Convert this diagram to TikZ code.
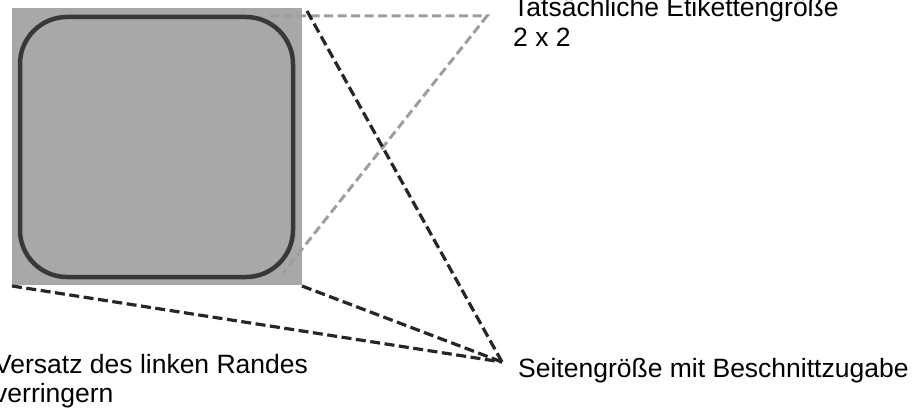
\documentclass[tikz,border=0pt]{standalone}
\usepackage{fontspec}
\setmainfont{Liberation Sans}
\begin{document}
\begin{tikzpicture}[x=1pt,y=-1pt,
  blackdash/.style={draw=black!85,line width=3.2pt,dash pattern=on 10pt off 4.5pt},
  graydash/.style={draw=black!38,line width=3pt,dash pattern=on 9pt off 4.5pt},
  lbl/.style={font=\fontsize{26.5}{30}\selectfont,inner sep=0pt,anchor=base west}]
\useasboundingbox (0,0) rectangle (914,409);
% label sheet
\fill[black!34] (12,8) rectangle (302,285);
\draw[draw=black!78,line width=4.5pt,rounded corners=47pt] (20,17) rectangle (293,277);
% named points
\coordinate (sqTL) at (307,11);
\coordinate (sqBR) at (302,286);
\coordinate (sqBL) at (12,286);
\coordinate (apex) at (502,362);
\coordinate (gA) at (270,16);
\coordinate (gB) at (487,16);
\coordinate (gC) at (283,273);
% gray dashed (actual label size)
\draw[graydash] (gA) -- (gB) -- (gC);
% black dashed (page size with bleed)
\draw[blackdash] (sqTL) -- (apex);
\draw[blackdash] (sqBR) -- (apex);
\draw[blackdash] (sqBL) -- (apex);
% labels
\node[lbl] (tl1) at (513,17) {Tatsächliche Etikettengröße};
\node[lbl] (tl2) at (513,47) {2 x 2};
\node[lbl] (sg) at (518,377) {Seitengröße mit Beschnittzugabe};
\node[lbl] (vl1) at (-6,373) {Versatz des linken Randes};
\node[lbl] (vl2) at (-6,402) {verringern};
\end{tikzpicture}
\end{document}
